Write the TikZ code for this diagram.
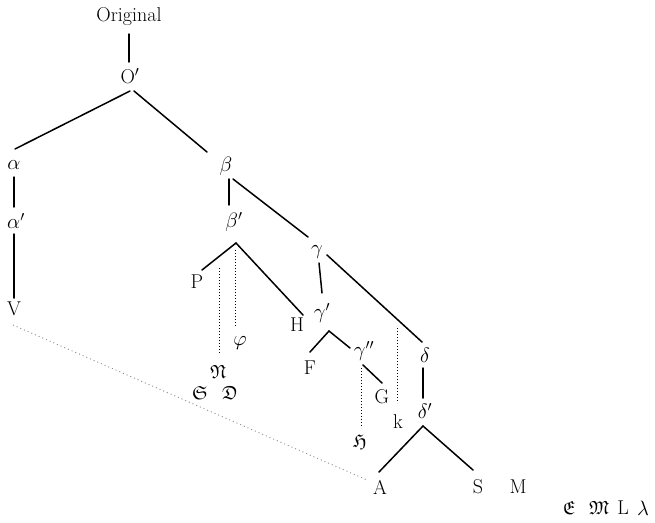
\documentclass[tikz,border=0pt]{standalone}
\usepackage{amssymb}
\usetikzlibrary{calc}
\begin{document}
\begin{tikzpicture}[x=1pt,y=-1pt,
  lbl/.style={inner sep=0pt,font=\fontsize{20}{24}\selectfont},
  smalllbl/.style={inner sep=0pt,font=\fontsize{19}{22}\selectfont},
  solidline/.style={line width=1.5pt,line cap=round},
  dotline/.style={line width=1pt,dash pattern=on 1pt off 2pt},
  faintdot/.style={line width=0.9pt,dash pattern=on 1pt off 3pt,black!45}]
\useasboundingbox (0,0) rectangle (655,522);
% nodes
\node[lbl] (orig) at (129,17) {Original};
\node[lbl] (O) at (130,76) {O$'$};
\node[lbl] (a) at (14,165) {$\alpha$};
\node[lbl] (a1) at (16,221) {$\alpha'$};
\node[lbl] (V) at (14,309) {V};
\node[lbl] (b) at (226,166) {$\beta$};
\node[lbl] (b1) at (234,222) {$\beta'$};
\coordinate (bap) at (236,243);
\node[lbl] (P) at (197,282) {P};
\node[lbl] (H) at (297,325) {H};
\node[lbl] (g) at (317,252) {$\gamma$};
\node[lbl] (g1) at (322,313) {$\gamma'$};
\coordinate (gap) at (329,331);
\node[lbl] (F) at (310,368) {F};
\node[lbl] (g2) at (364,351) {$\gamma''$};
\node[lbl] (G) at (382,397) {G};
\node[lbl] (d) at (425,355) {$\delta$};
\node[lbl] (d1) at (425,411) {$\delta'$};
\coordinate (dap) at (423,426);
\node[lbl] (A) at (380,487) {A};
\node[lbl] (S) at (478,487) {S};
\node[lbl] (M) at (518,487) {M};
\node[lbl] (phi) at (240,343) {$\varphi$};
\node[smalllbl] (N) at (218,372) {$\mathfrak{N}$};
\node[smalllbl] (Sf) at (200,393) {$\mathfrak{S}$};
\node[smalllbl] (Df) at (230,393) {$\mathfrak{D}$};
\node[smalllbl] (Hf) at (360,442) {$\mathfrak{H}$};
\node[lbl] (k) at (398,422) {k};
\node[smalllbl] (Ef) at (569,508) {$\mathfrak{E}$};
\node[smalllbl] (Mf) at (599,508) {$\mathfrak{M}$};
\node[lbl] (L) at (623,508) {L};
\node[lbl] (lam) at (643,508) {$\lambda$};
\coordinate (dN) at (219,268);
\coordinate (dphi) at (235,250);
\coordinate (dk) at (397,328);
% solid connectors
\draw[solidline] ($(orig)+(0,17)$) -- ($(O)+(-1,-14)$);
\draw[solidline] ($(O)+(0,15)$) -- ($(a)+(1,-16)$);
\draw[solidline] ($(O)+(4,15)$) -- ($(b)+(-19,-14)$);
\draw[solidline] ($(a)+(0,12)$) -- ($(a1)+(-2,-14)$);
\draw[solidline] ($(a1)+(-2,13)$) -- ($(V)+(0,-11)$);
\draw[solidline] ($(b)+(3,13)$) -- ($(b1)+(-5,-17)$);
\draw[solidline] ($(b)+(7,13)$) -- ($(g)+(-9,-15)$);
\draw[solidline] ($(P)+(5,-12)$) -- (bap) -- ($(H)+(6,-10)$);
\draw[solidline] ($(g)+(2,11)$) -- ($(g1)+(0,-20)$);
\draw[solidline] ($(g)+(10,3)$) -- ($(d)+(-3,-13)$);
\draw[solidline] ($(d)+(-2,13)$) -- ($(d1)+(-2,-13)$);
\draw[solidline] ($(F)+(0,-16)$) -- (gap) -- ($(g2)+(-14,-3)$);
\draw[solidline] ($(g2)+(-1,14)$) -- ($(G)+(0,-14)$);
\draw[solidline] ($(A)+(-1,-15)$) -- (dap) -- ($(S)+(-5,-17)$);
% dotted connectors
\draw[dotline] (dN) -- ($(N)+(1,-19)$);
\draw[dotline] (dphi) -- ($(phi)+(-5,-16)$);
\draw[dotline] ($(g2)+(-3,17)$) -- ($(Hf)+(1,-14)$);
\draw[dotline] (dk) -- ($(k)+(-1,-19)$);
\draw[faintdot] ($(V)+(-1,16)$) -- ($(A)+(-13,-7)$);
\end{tikzpicture}
\end{document}
